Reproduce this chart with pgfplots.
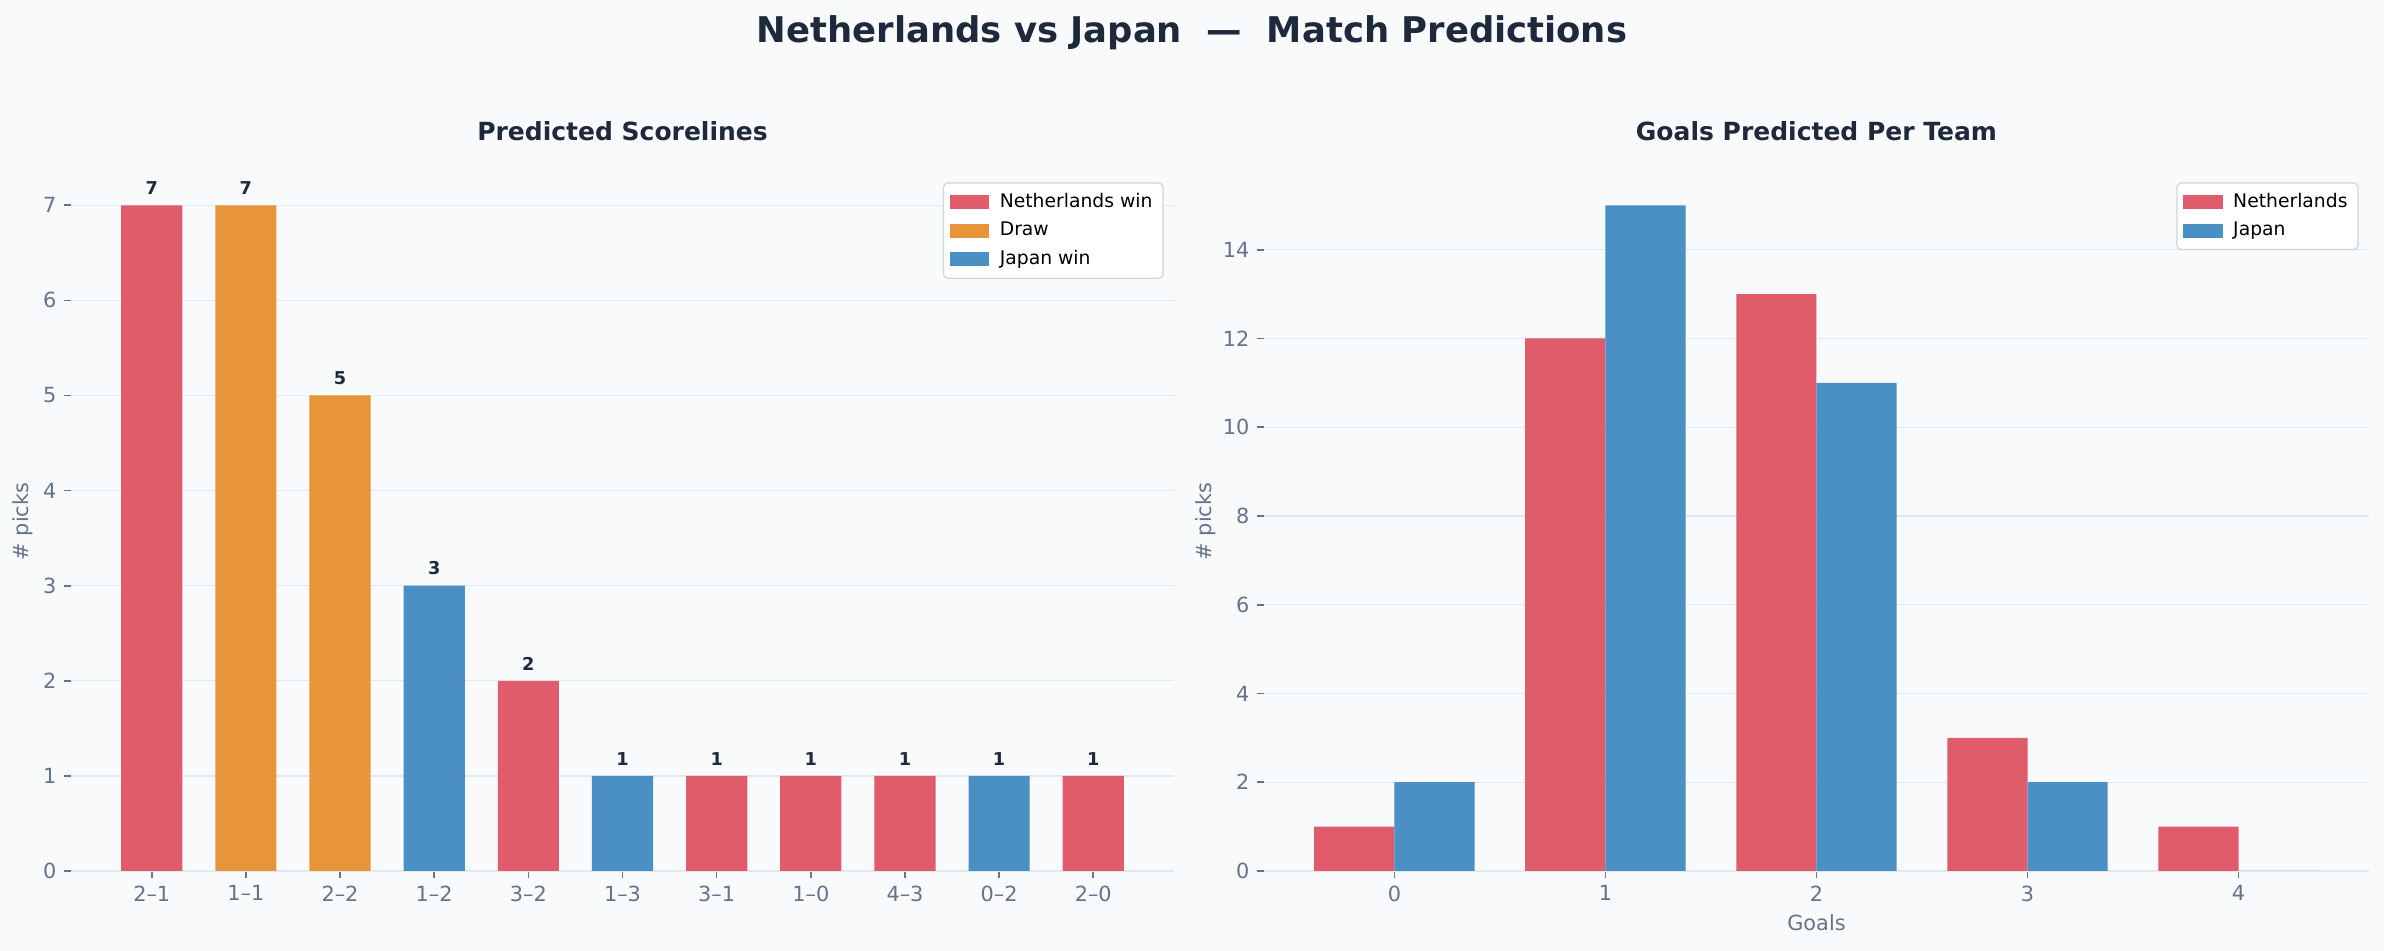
\documentclass[border=0pt]{standalone}
\usepackage{fontspec}
\setmainfont{DejaVu Sans}
\usepackage{pgfplots}
\pgfplotsset{compat=1.18}
\definecolor{bgc}{HTML}{F8FAFC}
\definecolor{titlec}{HTML}{1E293B}
\definecolor{tickc}{HTML}{64748B}
\definecolor{gridc}{HTML}{E2E8F0}
\definecolor{nedc}{HTML}{E05C6A}
\definecolor{drawc}{HTML}{E8943A}
\definecolor{japc}{HTML}{4A90C4}
\definecolor{legc}{HTML}{D0D5DB}
\pgfplotsset{
  mystyle/.style={
    scale only axis, height=335.5pt, anchor=south west,
    axis x line*=bottom, axis y line*=left,
    y axis line style={draw=none},
    x axis line style={draw=gridc, line width=1pt},
    tick align=outside, major tick length=3.5pt,
    tick style={color=tickc, line width=0.8pt},
    ymajorgrids, grid style={gridc, line width=0.6pt},
    ticklabel style={font=\fontsize{10}{12}\selectfont, color=tickc},
    /pgf/number format/assume math mode=true,
    label style={font=\fontsize{10}{12}\selectfont, color=tickc},
    title style={at={(0.5,1)}, anchor=base, yshift=9pt, font=\bfseries\fontsize{12}{14}\selectfont, color=titlec},
    legend style={at={(1,1)}, anchor=north east, xshift=-5pt, yshift=-5pt,
      draw=legc, fill=white, rounded corners=2pt, line width=0.6pt,
      font=\fontsize{9}{11}\selectfont, row sep=1.5pt, inner xsep=3pt, inner ysep=3pt},
    legend cell align=left,
    legend image code/.code={\fill[##1, sharp corners] (0pt,-3.4pt) rectangle (19pt,3.4pt); \path (22pt,0pt);},
    ymin=0,
  }
}
\begin{document}
\begin{tikzpicture}
\path[use as bounding box, fill=bgc] (0,0) rectangle (1144.32pt,456.48pt);
\node[anchor=base, font=\bfseries\fontsize{17}{20}\selectfont, color=titlec] at (572.16pt,436pt) {Netherlands vs Japan\ \ —\ \ Match Predictions};
\begin{axis}[mystyle,
  at={(34.1pt,38.4pt)}, width=529.4pt,
  xmin=-0.857, xmax=10.857, ymax=7.35,
  xtick={0,...,10},
  xticklabels={2–1,1–1,2–2,1–2,3–2,1–3,3–1,1–0,4–3,0–2,2–0},
  ytick={0,...,7},
  ylabel={\# picks},
  ylabel style={at={(axis description cs:-0.0435,0.5)}, anchor=center},
  title={Predicted Scorelines},
  nodes near coords,
  every node near coord/.append style={font=\bfseries\fontsize{8.5}{10}\selectfont, color=titlec, yshift=1.5pt},
]
\addplot[ybar, bar width=0.65, bar shift=0pt, fill=nedc, draw=none] coordinates {(0,7) (4,2) (6,1) (7,1) (8,1) (10,1)};
\addplot[ybar, bar width=0.65, bar shift=0pt, fill=drawc, draw=none] coordinates {(1,7) (2,5)};
\addplot[ybar, bar width=0.65, bar shift=0pt, fill=japc, draw=none] coordinates {(3,3) (5,1) (9,1)};
\legend{Netherlands win, Draw, Japan win}
\end{axis}
\begin{axis}[mystyle,
  at={(606.7pt,38.4pt)}, width=530.4pt,
  xmin=-0.618, xmax=4.618, ymax=15.75,
  xtick={0,...,4},
  ytick={0,2,...,14},
  ylabel={\# picks},
  ylabel style={at={(axis description cs:-0.0525,0.5)}, anchor=center},
  xlabel={Goals},
  xlabel style={at={(axis description cs:0.5,-0.0744)}, anchor=center},
  title={Goals Predicted Per Team},
]
\addplot[ybar, bar width=0.38, bar shift=-0.19, fill=nedc, draw=none] coordinates {(0,1) (1,12) (2,13) (3,3) (4,1)};
\addplot[ybar, bar width=0.38, bar shift=0.19, fill=japc, draw=none] coordinates {(0,2) (1,15) (2,11) (3,2) (4,0)};
\legend{Netherlands, Japan}
\end{axis}
\end{tikzpicture}
\end{document}
